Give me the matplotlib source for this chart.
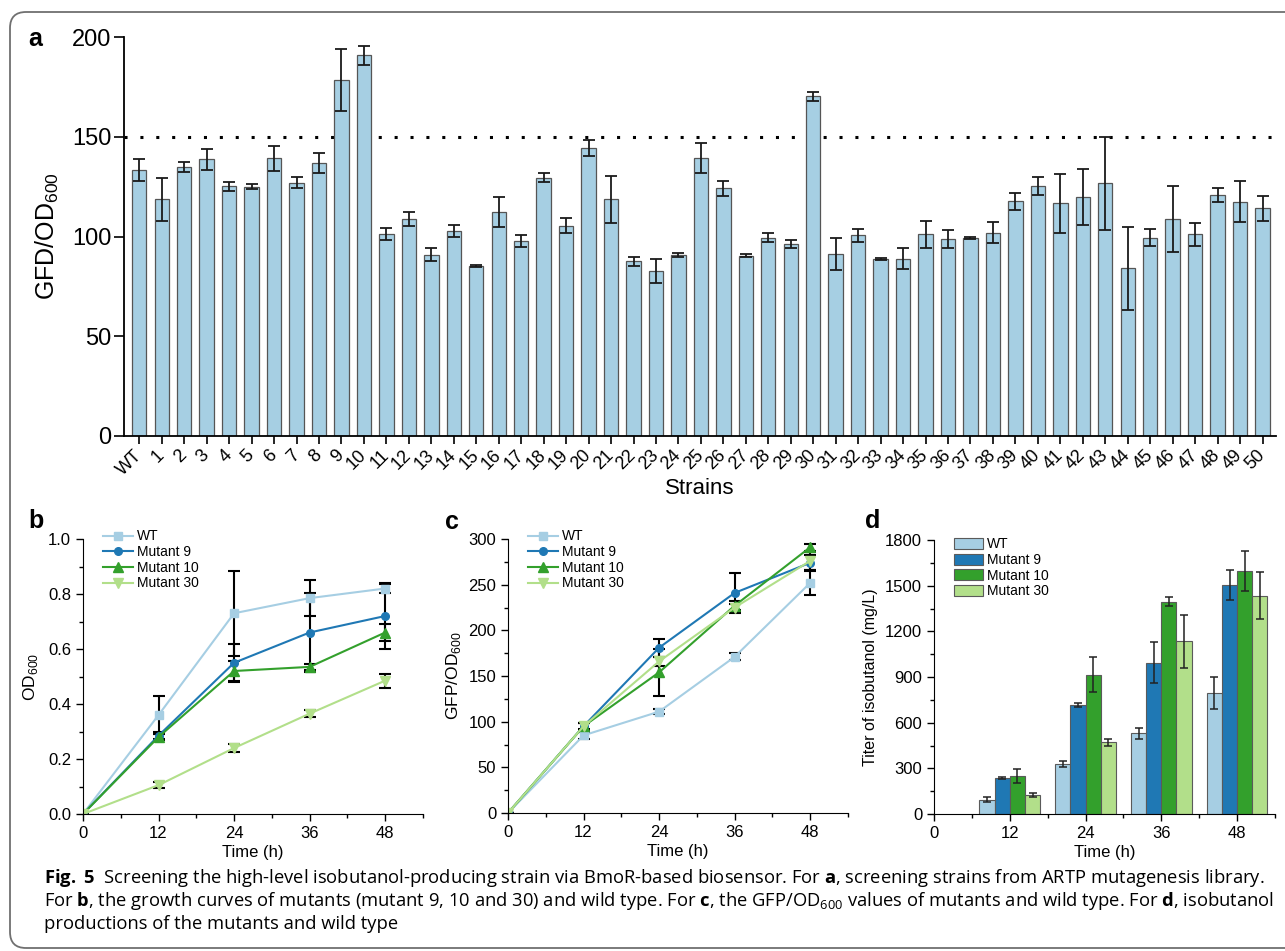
import numpy as np
import matplotlib
matplotlib.use("Agg")
import matplotlib.pyplot as plt
from matplotlib.patches import FancyBboxPatch
from matplotlib.lines import Line2D
from matplotlib.transforms import IdentityTransform
from matplotlib.ticker import MultipleLocator, FormatStrFormatter

plt.rcParams['font.family'] = ['Liberation Sans', 'DejaVu Sans']
plt.rcParams['mathtext.fontset'] = 'custom'
plt.rcParams['mathtext.rm'] = 'Open Sans'
plt.rcParams['mathtext.bf'] = 'Open Sans:bold'

# ---- panel a data ----
strains = ['WT'] + [str(i) for i in range(1, 51)]
gfp_a = [133.2, 118.7, 134.9, 138.6, 125.2, 125.0, 139.1, 126.9, 136.7, 178.4,
         190.8, 101.3, 108.9, 90.9, 102.9, 85.3, 112.1, 97.7, 129.4, 105.4,
         144.3, 118.7, 87.5, 82.8, 90.6, 139.4, 124.2, 90.4, 99.4, 96.2,
         170.2, 91.2, 100.6, 88.6, 88.9, 101.1, 98.7, 99.0, 101.9, 117.7,
         125.5, 116.7, 119.8, 126.7, 84.0, 99.4, 108.8, 101.1, 120.8, 117.5,
         114.2]
err_a = [5.5, 10.7, 2.5, 5.2, 2.3, 1.3, 6.5, 2.8, 5.0, 15.4,
         4.7, 3.1, 3.5, 3.2, 2.9, 0.5, 7.5, 2.9, 2.3, 3.7,
         4.1, 11.8, 2.2, 6.0, 1.1, 7.4, 3.7, 0.8, 2.2, 2.2,
         2.2, 8.0, 3.3, 0.5, 5.3, 6.9, 4.4, 0.5, 5.4, 4.3,
         4.5, 14.7, 13.9, 23.3, 20.8, 4.2, 16.7, 5.7, 3.4, 10.4,
         6.3]
threshold = 150

# ---- panels b, c, d data ----
time_h = [0, 12, 24, 36, 48]
series = ['WT', 'Mutant 9', 'Mutant 10', 'Mutant 30']

od_wt = [0, 0.36, 0.73, 0.785, 0.82]
od_m9 = [0, 0.285, 0.55, 0.66, 0.72]
od_m10 = [0, 0.28, 0.52, 0.535, 0.66]
od_m30 = [0, 0.105, 0.24, 0.365, 0.485]
od_err_wt = [0, 0.07, 0.155, 0.065, 0.015]
od_err_m9 = [0, 0.012, 0.07, 0.145, 0.12]
od_err_m10 = [0, 0.012, 0.035, 0.012, 0.03]
od_err_m30 = [0, 0.012, 0.015, 0.012, 0.025]

gfp_wt = [0, 85, 111, 171, 252]
gfp_m9 = [0, 95, 181, 241, 274]
gfp_m10 = [0, 95, 154, 227, 291]
gfp_m30 = [0, 95, 166, 225, 276]
gfp_err_wt = [0, 4, 3, 4, 13]
gfp_err_m9 = [0, 3, 10, 22, 8]
gfp_err_m10 = [0, 4, 26, 5, 4]
gfp_err_m30 = [0, 4, 5, 4, 10]

titer_time = [12, 24, 36, 48]
titer_wt = [95, 330, 530, 795]
titer_m9 = [235, 715, 995, 1505]
titer_m10 = [250, 915, 1395, 1595]
titer_m30 = [125, 470, 1135, 1435]
titer_err_wt = [15, 20, 35, 105]
titer_err_m9 = [5, 15, 135, 100]
titer_err_m10 = [45, 115, 30, 130]
titer_err_m30 = [12, 25, 175, 155]

colors = ['#a6cee3', '#1f78b4', '#33a02c', '#b2df8a']
markers = ['s', 'o', '^', 'v']

W, H = 1285, 951
fig = plt.figure(figsize=(W / 100, H / 100), dpi=100)


def ax_px(left, top, right, bottom):
    return fig.add_axes([left / W, 1 - bottom / H, (right - left) / W, (bottom - top) / H])


# rounded frame around figure
frame = FancyBboxPatch((10, 3), 1400, 936, boxstyle="round,pad=0,rounding_size=16",
                       transform=IdentityTransform(), fill=False, edgecolor='#707070', lw=1.3)
fig.patches.append(frame)

# ---------------- panel a ----------------
ax = ax_px(124, 37, 1276, 436)
x = np.arange(len(strains))
ax.bar(x, gfp_a, width=0.64, color='#a6cfe3', edgecolor='#555555', lw=0.9, zorder=2)
ax.errorbar(x, gfp_a, yerr=err_a, fmt='none', ecolor='#1a1a1a', elinewidth=1.3,
            capsize=4, capthick=1.3, zorder=3)
ax.axhline(threshold, color='black', ls=(0, (1, 4.2)), lw=2.2, zorder=1)
ax.set_xlim(-0.68, 50.6)
ax.set_ylim(0, 200)
ax.set_yticks([0, 50, 100, 150, 200])
ax.set_xticks(x)
ax.set_xticklabels(strains, rotation=45, ha='right', va='center', rotation_mode='anchor', fontsize=13)
ax.tick_params(axis='y', labelsize=17, length=7, width=1.2, direction='out', pad=2)
ax.tick_params(axis='x', length=6, width=1.2, direction='out', pad=6)
for s in ['top', 'right']:
    ax.spines[s].set_visible(False)
for s in ['left', 'bottom']:
    ax.spines[s].set_linewidth(1.3)
ax.set_ylabel('GFD/OD$_{\\mathregular{600}}$', fontsize=18, labelpad=8)
ax.set_xlabel('Strains', fontsize=16, labelpad=0)
fig.text(35 / W, 1 - 39 / H, 'a', fontsize=18, fontweight='bold', ha='center', va='center')


def style_small(ax, ymax, ymajor, yminor):
    ax.set_xlim(0, 54)
    ax.set_ylim(0, ymax)
    ax.set_xticks(time_h)
    ax.xaxis.set_minor_locator(MultipleLocator(6))
    ax.yaxis.set_major_locator(MultipleLocator(ymajor))
    ax.yaxis.set_minor_locator(MultipleLocator(yminor))
    ax.tick_params(which='major', length=5, width=1, labelsize=12)
    ax.tick_params(which='minor', length=3, width=1)
    for s in ['top', 'right']:
        ax.spines[s].set_visible(False)
    ax.set_xlabel('Time (h)', fontsize=12, labelpad=3)


def line_panel(ax, ys, errs):
    handles = []
    for y, e, c, m, lab in zip(ys, errs, colors, markers, series):
        ms = 6.5 if m in '^v' else 5.5
        ax.errorbar(time_h, y, yerr=e, color=c, marker=m, ms=ms, lw=1.5,
                    ecolor='black', elinewidth=1.5, capsize=4, capthick=1.5)
        handles.append(Line2D([], [], color=c, marker=m, ms=ms, lw=1.5, label=lab))
    ax.legend(handles=handles, loc='upper left', bbox_to_anchor=(0.058, 1.035), frameon=False,
              fontsize=10, borderpad=0, borderaxespad=0, labelspacing=0.12, handlelength=2.2,
              handletextpad=0.25)


# ---------------- panel b ----------------
axb = ax_px(83, 539, 423, 814)
line_panel(axb, [od_wt, od_m9, od_m10, od_m30], [od_err_wt, od_err_m9, od_err_m10, od_err_m30])
style_small(axb, 1.0, 0.2, 0.1)
axb.yaxis.set_major_formatter(FormatStrFormatter('%.1f'))
axb.set_ylabel('OD$_{\\mathregular{600}}$', fontsize=12.5, labelpad=6)
fig.text(36 / W, 1 - 521 / H, 'b', fontsize=18, fontweight='bold', ha='center', va='center')

# ---------------- panel c ----------------
axc = ax_px(508, 539, 848, 813)
line_panel(axc, [gfp_wt, gfp_m9, gfp_m10, gfp_m30],
           [gfp_err_wt, gfp_err_m9, gfp_err_m10, gfp_err_m30])
style_small(axc, 300, 50, 25)
axc.set_ylabel('GFP/OD$_{\\mathregular{600}}$', fontsize=12.5, labelpad=4)
fig.text(452 / W, 1 - 522 / H, 'c', fontsize=18, fontweight='bold', ha='center', va='center')

# ---------------- panel d ----------------
axd = ax_px(934, 540, 1275, 814)
bw = 2.4
tt = np.array(titer_time)
vals = [titer_wt, titer_m9, titer_m10, titer_m30]
errs = [titer_err_wt, titer_err_m9, titer_err_m10, titer_err_m30]
for i, (v, e, c, lab) in enumerate(zip(vals, errs, colors, series)):
    xs = tt + (i - 1.5) * bw
    axd.bar(xs, v, width=bw, color=c, edgecolor='#5a5a5a', lw=0.8, label=lab, zorder=2)
    axd.errorbar(xs, v, yerr=e, fmt='none', ecolor='#222222', elinewidth=1.1,
                 capsize=3, capthick=1.1, zorder=3)
style_small(axd, 1800, 300, 150)
axd.set_ylabel('Titer of isobutanol (mg/L)', fontsize=11.5, labelpad=5)
axd.legend(loc='upper left', bbox_to_anchor=(0.058, 1.01), frameon=False, fontsize=10,
           borderpad=0, borderaxespad=0, labelspacing=0.12, handlelength=2.1,
           handleheight=0.85, handletextpad=0.3)
fig.text(873 / W, 1 - 521 / H, 'd', fontsize=18, fontweight='bold', ha='center', va='center')

# ---------------- caption ----------------
cap_kw = dict(fontsize=13.2, family=['Open Sans', 'DejaVu Sans'], ha='left', va='center')
fig.text(44 / W, 1 - 878 / H,
         r'$\mathbf{Fig.}$ $\mathbf{5}$  Screening the high-level isobutanol-producing strain via '
         r'BmoR-based biosensor. For $\mathbf{a}$, screening strains from ARTP mutagenesis library.',
         **cap_kw)
fig.text(44 / W, 1 - 901 / H,
         r'For $\mathbf{b}$, the growth curves of mutants (mutant 9, 10 and 30) and wild type. '
         r'For $\mathbf{c}$, the GFP/OD$_{\mathregular{600}}$ values of mutants and wild type. '
         r'For $\mathbf{d}$, isobutanol',
         **cap_kw)
fig.text(44 / W, 1 - 924 / H, 'productions of the mutants and wild type', **cap_kw)

fig.savefig('out.png', dpi=100)
